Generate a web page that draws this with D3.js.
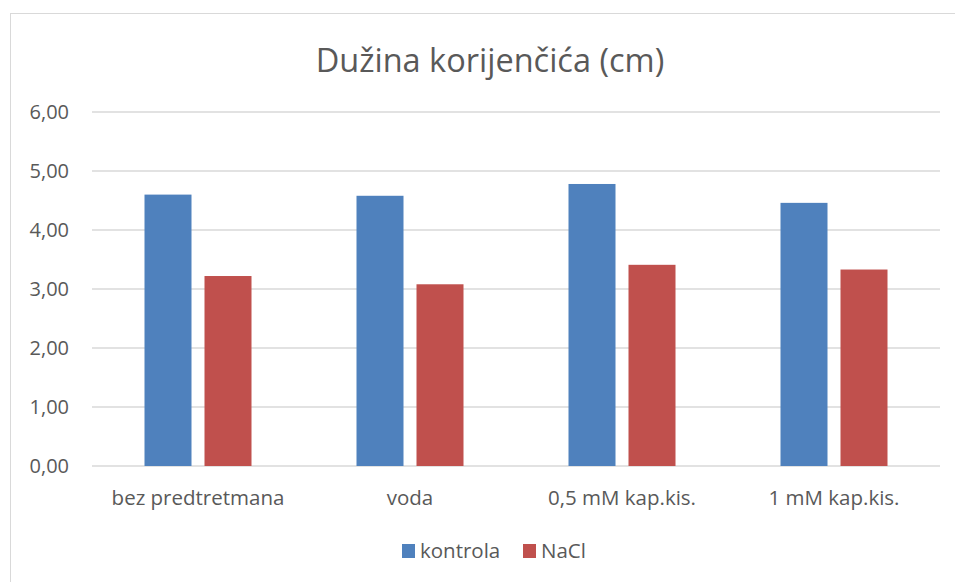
<!DOCTYPE html>
<html>
<head>
<meta charset="utf-8">
<script src="https://cdn.jsdelivr.net/npm/d3@7"></script>
<style>
  body { margin: 0; background: #fff; }
  text { font-family: "Open Sans", "Noto Sans", sans-serif; fill: #595959; }
</style>
</head>
<body>
<div id="chart"></div>
<script>
// data
let categories = ["bez predtretmana", "voda", "0,5 mM kap.kis.", "1 mM kap.kis."]
let seriesNames = ["kontrola", "NaCl"]
let kontrola = [4.60, 4.58, 4.78, 4.46]
let nacl = [3.22, 3.08, 3.41, 3.33]
let yTicks = [0, 1, 2, 3, 4, 5, 6]
let colors = ["#4F81BD", "#C0504D"]

let width = 955, height = 582
let svg = d3.select("#chart").append("svg")
  .attr("width", width)
  .attr("height", height)

// outer chart border
svg.append("rect")
  .attr("x", 10.5).attr("y", 13.5)
  .attr("width", 960).attr("height", 600)
  .style("fill", "none")
  .style("stroke", "#d9d9d9")

let plotLeft = 92, plotRight = 940, plotTop = 112, plotBottom = 466

let x = d3.scaleBand().domain(categories).range([plotLeft, plotRight])
let y = d3.scaleLinear().domain([0, 6]).range([plotBottom, plotTop])

// gridlines
svg.selectAll(".grid")
  .data(yTicks)
  .enter().append("line")
  .attr("x1", plotLeft).attr("x2", plotRight)
  .attr("y1", d => y(d)).attr("y2", d => y(d))
  .style("stroke", "#d9d9d9")
  .style("stroke-width", 1.3)

// y labels
svg.selectAll(".ylab")
  .data(yTicks)
  .enter().append("text")
  .attr("x", 69)
  .attr("y", d => y(d))
  .attr("dy", "0.35em")
  .attr("text-anchor", "end")
  .style("font-size", "20px")
  .text(d => d.toFixed(2).replace(".", ","))

// bars
let barW = 47, gap = 13
let groupOffset = (x.bandwidth() - (barW * 2 + gap)) / 2
let allSeries = [kontrola, nacl]

allSeries.forEach(function (vals, si) {
  svg.selectAll(".bar" + si)
    .data(vals)
    .enter().append("rect")
    .attr("x", (d, i) => x(categories[i]) + groupOffset + si * (barW + gap))
    .attr("y", d => y(d))
    .attr("width", barW)
    .attr("height", d => plotBottom - y(d))
    .style("fill", colors[si])
})

// x labels
svg.selectAll(".xlab")
  .data(categories)
  .enter().append("text")
  .attr("x", d => x(d) + x.bandwidth() / 2)
  .attr("y", 505)
  .attr("text-anchor", "middle")
  .style("font-size", "20.5px")
  .text(d => d)

// title
svg.append("text")
  .attr("x", 490)
  .attr("y", 72)
  .attr("text-anchor", "middle")
  .style("font-size", "32.5px")
  .text("Dužina korijenčića (cm)")

// legend
let legendX = [402, 523]
seriesNames.forEach(function (name, i) {
  svg.append("rect")
    .attr("x", legendX[i]).attr("y", 544)
    .attr("width", 13).attr("height", 14)
    .style("fill", colors[i])
  svg.append("text")
    .attr("x", legendX[i] + 18)
    .attr("y", 550.5)
    .attr("dy", "0.35em")
    .style("font-size", "20.5px")
    .text(name)
})
</script>
</body>
</html>
